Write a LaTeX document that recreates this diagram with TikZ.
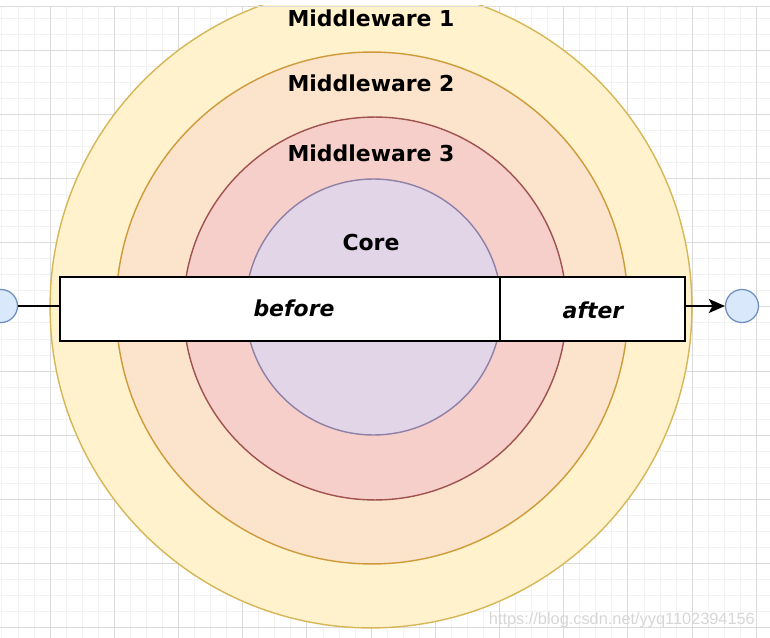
\documentclass[tikz,border=0pt]{standalone}
\usepackage{fontspec}
\setmainfont{DejaVu Sans}
\newfontfamily\markfont{Liberation Sans}
\usepackage{tikz}
\usetikzlibrary{arrows.meta}
\usetikzlibrary{positioning}
\definecolor{yelfill}{HTML}{FFF2CC}
\definecolor{yelline}{HTML}{D6B656}
\definecolor{orfill}{HTML}{FBE4CB}
\definecolor{orline}{HTML}{CF9A3A}
\definecolor{redfill}{HTML}{F6CFCB}
\definecolor{redline}{HTML}{A0524E}
\definecolor{purfill}{HTML}{E1D5E7}
\definecolor{purline}{HTML}{8E80A6}
\definecolor{bluefill}{HTML}{DAE8FC}
\definecolor{blueline}{HTML}{6C8EBF}
\tikzset{
    ring/.style={
        draw,
        circle,
        line width=0.8pt,
        inner sep=0pt
    },
    layername/.style={
        font=\fontsize{12.5}{15}\selectfont\bfseries
    },
    stagename/.style={
        font=\fontsize{12.5}{15}\selectfont\bfseries\itshape
    },
    stagebox/.style={
        draw,
        rectangle,
        fill=white,
        line width=1pt,
        inner sep=0pt,
        outer sep=0pt,
        minimum height=1.28cm
    },
    endpoint/.style={
        draw=blueline,
        fill=bluefill,
        circle,
        line width=0.7pt,
        inner sep=0pt,
        minimum size=0.66cm
    }
}

\begin{document}
\begin{tikzpicture}[x=0.02cm, y=-0.02cm]
    \useasboundingbox (0,0) rectangle (770,638);
    \begin{scope}
    \clip (0,6) rectangle (770,638);
    % grid
    \foreach \gx in {1.85,17.9,...,770}
        \draw[color=black!5, line width=0.4pt] (\gx,6) -- (\gx,638);
    \foreach \gy in {17.9,33.95,...,638}
        \draw[color=black!5, line width=0.4pt] (0,\gy) -- (770,\gy);
    \foreach \gx in {50,114.2,...,770}
        \draw[color=black!14, line width=0.5pt] (\gx,6) -- (\gx,638);
    \foreach \gy in {50,114.2,...,638}
        \draw[color=black!14, line width=0.5pt] (0,\gy) -- (770,\gy);

    \node[ring, draw=yelline, fill=yelfill, minimum size=12.84cm] (mw1) at (371,307) {};
    \node[ring, draw=orline, fill=orfill, minimum size=10.24cm] (mw2) at (372,308) {};
    \node[ring, draw=redline, fill=redfill, minimum size=7.66cm] (mw3) at (375,308.5) {};
    \node[ring, draw=purline, fill=purfill, minimum size=5.12cm] (core) at (373.5,307) {};
    \end{scope}
    \draw[color=black!14, line width=0.5pt] (0,6) -- (770,6);

    \node[layername] (mw1name) at (371,18) {Middleware 1};
    \node[layername] (mw2name) at (371,83) {Middleware 2};
    \node[layername] (mw3name) at (371,153) {Middleware 3};
    \node[layername] (corename) at (371,243) {Core};

    \node[stagebox, minimum width=8.8cm] (beforebox) at (280,309) {};
    \node[stagebox, minimum width=3.7cm] (afterbox) at (592.5,309) {};
    \node[stagename] (beforename) at (294,308) {before};
    \node[stagename] (aftername) at (593,310) {after};

    \node[endpoint] (inpoint) at (1,306) {};
    \node[endpoint] (outpoint) at (742,306) {};

    \draw[line width=0.9pt] (inpoint) -- (inpoint -| beforebox.west);
    \draw[line width=0.9pt, -{Stealth[length=3.2mm, width=2.8mm, inset=0.7mm]}] (afterbox.east |- outpoint) -- (outpoint);

    \node[font=\markfont\fontsize{9.3}{11}\selectfont, text=black!16, anchor=east] (watermark) at (761,620) {https://blog.csdn.net/yyq1102394156};
\end{tikzpicture}
\end{document}
